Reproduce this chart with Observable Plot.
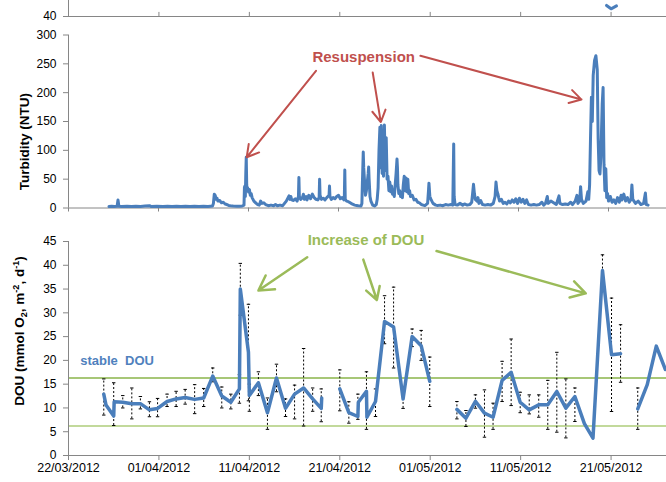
<!DOCTYPE html>
<html><head><meta charset="utf-8">
<script src="https://cdn.jsdelivr.net/npm/d3@7"></script>
<script src="https://cdn.jsdelivr.net/npm/@observablehq/plot@0.6"></script>
<style>
html,body{margin:0;padding:0;background:#fff;overflow:hidden;}
#fig{position:relative;width:666px;height:482px;overflow:hidden;background:#fff;}
#fig svg{position:absolute;left:0;}
</style></head><body><div id="fig"></div>
<script>
// ---------- data (days since 22/03/2012) ----------
const tickDays = [0, 10, 20, 30, 40, 50, 60];
const tickLabels = ["22/03/2012","01/04/2012","11/04/2012","21/04/2012","01/05/2012","11/05/2012","21/05/2012"];
const turbTicks = [0, 50, 100, 150, 200, 250, 300];
const douTicks = [0, 5, 10, 15, 20, 25, 30, 35, 40, 45];

// fragment of the panel above (cropped)
const topDay = [59.5, 60.0, 60.6];
const topVal = [42.3, 41.6, 42.2];

// turbidity (NTU) [day, value]
const turbidity = [[4.5,2.5],[4.8,3],[5.1,2.5],[5.4,3],[5.5,14],[5.6,3],[5.9,2.5],[6.5,3],[7,2.5],[7.5,3],[8,2.8],[8.5,3.5],[9,4],[9.2,2.5],[9.8,3],[10.5,2.6],[11,3.2],[11.5,2.5],[12,3],[12.5,2.8],[13,3.2],[13.5,2.5],[14,3],[14.5,2.6],[15,3],[15.5,2.8],[16,3.5],[16.1,8],[16.2,24],[16.3,22],[16.4,15],[16.5,17],[16.6,12],[16.8,13],[17,9],[17.2,10],[17.4,7],[17.6,6],[17.8,4.5],[18,4],[18.3,3.5],[18.7,3.2],[19,3],[19.3,3.5],[19.5,5],[19.55,36],[19.6,38],[19.65,20],[19.7,60],[19.75,88],[19.8,40],[19.85,30],[19.9,35],[20.0,28],[20.1,32],[20.2,22],[20.3,25],[20.4,18],[20.5,15],[20.6,12],[20.8,9],[21,6],[21.2,5],[21.35,12],[21.5,8],[21.7,9],[21.9,6],[22.2,4],[22.5,5],[22.8,4],[23,6],[23.2,4],[23.5,5],[23.8,4],[24,8],[24.2,12],[24.4,18],[24.5,21],[24.6,15],[24.7,20],[24.8,14],[25.0,13],[25.2,16],[25.4,12],[25.55,20],[25.6,53],[25.65,20],[25.8,15],[26.0,18],[26.1,24],[26.2,15],[26.4,20],[26.5,14],[26.7,22],[26.9,16],[27.1,24],[27.3,18],[27.5,15],[27.7,14],[27.85,18],[27.9,50],[27.95,22],[28.1,15],[28.3,17],[28.5,14],[28.7,18],[28.95,22],[29.0,38],[29.05,20],[29.2,15],[29.4,18],[29.6,16],[29.8,20],[30.0,22],[30.2,16],[30.4,18],[30.6,14],[30.65,20],[30.7,66],[30.75,15],[30.9,12],[31.1,11],[31.3,9],[31.5,7],[31.8,5],[32.0,4.5],[32.2,4],[32.5,3.5],[32.6,8],[32.65,40],[32.75,97],[32.8,70],[32.9,45],[33.0,22],[33.1,30],[33.3,60],[33.35,71],[33.4,50],[33.5,20],[33.6,12],[33.8,5],[34.0,3.5],[34.2,6],[34.3,15],[34.4,35],[34.5,100],[34.6,140],[34.65,70],[34.75,143],[34.85,60],[34.95,129],[35.0,55],[35.1,144],[35.2,65],[35.3,122],[35.4,50],[35.5,55],[35.6,30],[35.7,45],[35.8,28],[35.9,38],[36.0,24],[36.1,28],[36.2,20],[36.4,60],[36.5,85],[36.55,70],[36.6,40],[36.7,25],[36.8,30],[36.9,20],[37.0,25],[37.1,18],[37.2,40],[37.3,55],[37.4,30],[37.5,52],[37.6,28],[37.7,50],[37.8,25],[37.9,30],[38.0,20],[38.2,22],[38.4,14],[38.6,15],[38.8,10],[39.0,9],[39.2,6],[39.4,5],[39.6,4],[39.9,8],[40.0,30],[40.05,43],[40.15,20],[40.3,14],[40.5,8],[40.8,5],[41.0,4.5],[41.3,5],[41.6,4],[41.9,6],[42.2,5],[42.5,6],[42.7,5],[42.75,60],[42.8,111],[42.85,20],[42.95,6],[43.2,5],[43.5,8],[43.8,5],[44.0,7],[44.3,5],[44.6,6],[44.8,10],[44.9,25],[45.0,41],[45.1,25],[45.2,15],[45.4,12],[45.5,18],[45.6,8],[45.8,13],[46.0,6],[46.3,5],[46.6,6],[46.9,5],[47.2,8],[47.4,20],[47.5,45],[47.6,30],[47.7,25],[47.8,18],[47.9,12],[48.1,15],[48.3,8],[48.5,10],[48.7,7],[48.9,12],[49.1,9],[49.3,14],[49.5,10],[49.7,16],[49.9,8],[50.1,17],[50.3,10],[50.5,15],[50.7,8],[50.9,14],[51.1,6],[51.4,5],[51.7,6],[52.0,5],[52.3,6],[52.6,10],[52.8,5],[53.0,8],[53.2,20],[53.3,8],[53.6,12],[53.9,9],[54.2,6],[54.5,21],[54.6,8],[54.9,6],[55.2,7],[55.5,6],[55.8,10],[56.0,6],[56.3,12],[56.5,22],[56.6,8],[56.8,12],[56.9,37],[57.0,15],[57.2,8],[57.5,12],[57.7,28],[57.8,15],[57.9,40],[58.0,120],[58.1,192],[58.2,150],[58.3,230],[58.45,256],[58.6,264],[58.75,240],[58.85,120],[58.95,65],[59.05,59],[59.15,88],[59.3,180],[59.4,209],[59.5,76],[59.6,30],[59.7,68],[59.8,18],[59.9,25],[60.0,12],[60.2,20],[60.4,10],[60.6,14],[60.8,8],[61.0,18],[61.2,10],[61.4,22],[61.5,14],[61.7,24],[61.9,12],[62.1,18],[62.3,10],[62.5,15],[62.6,40],[62.7,15],[63.0,8],[63.3,12],[63.6,6],[63.9,8],[64.1,26],[64.2,6],[64.4,5]];

// DOU (mmol O2 m-2 d-1); null value = gap in line
const douDay = [3.9,4.15,5.0,5.05,6.0,7.0,7.95,8.95,9.85,10.9,11.9,12.9,13.95,14.95,15.95,16.95,17.95,18.9,19.0,19.9,20.0,21.0,22.0,23.0,24.0,25.0,26.0,27.0,27.95,28.0,
  29.0,
  30.0,31.0,32.0,32.05,32.95,33.0,33.95,34.95,35.95,37.0,38.0,39.0,39.95,
  41.5,
  42.95,43.95,45.0,46.0,46.95,47.95,48.95,49.95,50.95,52.0,53.0,54.0,55.0,56.0,57.05,58.0,59.05,60.05,61.05,
  62.0,
  62.95,64.0,65.0,66.0];
const douVal = [12.9,10.6,8.3,11.3,11.2,10.9,10.9,9.6,9.9,11.35,11.9,12.2,11.8,12.1,16.7,12.5,11.2,14.0,35.0,21.7,12.6,15.3,9.0,16.3,9.95,12.9,14.2,11.9,9.9,12.1,
  null,
  14.0,9.0,8.2,11.2,13.5,8.05,11.35,28.2,27.0,11.9,25.0,23.1,15.6,
  null,
  9.7,7.85,11.4,8.9,8.05,15.8,17.5,11.2,9.6,10.65,10.65,13.45,9.95,12.4,6.7,3.65,38.9,21.2,21.4,
  null,
  9.8,14.9,23.0,18.1];
const douLo = [8.5,null,6.3,null,10.0,7.7,9.8,8.15,8.15,10.3,10.3,10.8,8.8,10.3,15.5,10.0,9.8,11.0,29.5,11.5,9.3,12.6,5.5,13.4,8.2,7.7,6.2,9.3,7.1,null,
  null,
  9.4,6.8,7.6,null,5.5,null,8.2,23.5,18.4,9.9,22.9,20.0,10.3,
  null,
  7.7,6.1,9.95,3.85,5.5,11.35,10.5,9.0,8.75,8.05,5.5,4.9,3.7,7.15,null,null,35.0,9.25,15.4,
  null,
  5.5,null,null,null];
const douHi = [16.1,null,15.3,null,12.6,14.2,12.4,11.3,12.0,12.9,13.5,13.9,14.9,14.1,18.4,14.4,12.9,17.0,40.4,31.8,15.0,17.6,12.1,19.2,11.9,14.8,22.5,14.2,14.0,null,
  null,
  18.0,11.3,12.9,null,17.6,null,14.0,33.6,35.4,13.8,26.6,26.3,20.7,
  null,
  11.35,9.46,12.75,13.8,11.0,19.8,24.5,13.3,12.75,12.75,15.8,21.7,16.1,14.2,null,null,42.2,33.1,27.5,
  null,
  14.2,null,null,null];
const stableHigh = 16.3;
const stableLow = 6.2;

// annotations (data coordinates)
const redArrows = [
  {x1: 27.5, y1: 238, x2: 19.8, y2: 88},
  {x1: 33.8, y1: 235, x2: 34.7, y2: 149},
  {x1: 39.1, y1: 264, x2: 57.0, y2: 188}
];
const resuspLabel = {x: 32.8, y: 261, text: "Resuspension"};
const turbTitle = {y: 115, text: "Turbidity (NTU)"};
const greenArrows = [
  {x1: 26.4, y1: 41.7, x2: 21.0, y2: 34.7},
  {x1: 32.6, y1: 41.2, x2: 34.1, y2: 32.7},
  {x1: 40.7, y1: 43.0, x2: 57.2, y2: 34.1}
];
const increaseLabel = {x: 32.9, y: 45.2, text: "Increase of DOU"};
const stableLabel = {x: 1.3, y: 20.0, text: "stable  DOU"};

// ---------- drawing ----------
const axisColor = "#868686";
const blue = "#4a7ebb";
const red = "#c0504d";
const green = "#9bbb59";
const font = "'Liberation Sans', Arial, sans-serif";
const fig = document.getElementById("fig");

function place(svg, top) {
  svg.style.top = top + "px";
  svg.style.background = "transparent";
  svg.style.maxWidth = "none";
  svg.style.overflow = "visible";
  fig.appendChild(svg);
}

// cropped panel above
const topRows = topDay.map((d, i) => ({d, v: topVal[i]}));
const sliver = Plot.plot({
  width: 701, height: 20, marginLeft: 68, marginRight: 0, marginTop: 0, marginBottom: 4,
  style: {fontFamily: font, fontSize: "12px", color: "#000"},
  x: {domain: [0, 70], axis: null},
  y: {domain: [40, 43.33], axis: null},
  marks: [
    Plot.ruleY([40], {stroke: axisColor}),
    Plot.ruleX([0], {stroke: axisColor}),
    Plot.ruleX(tickDays.slice(1), {y1: 40, y2: 40.85, stroke: axisColor}),
    Plot.axisY([40], {tickSize: 5, tickPadding: 7, stroke: axisColor, fill: "#000", label: null}),
    Plot.line(topRows, {x: "d", y: "v", stroke: blue, strokeWidth: 3})
  ]
});
place(sliver, 0);

// turbidity panel
const turbRows = turbidity.map(([d, v]) => ({d, v}));
const turb = Plot.plot({
  width: 698, height: 200, marginLeft: 68, marginRight: 0, marginTop: 14.5, marginBottom: 12.5,
  style: {fontFamily: font, fontSize: "12px", color: "#000"},
  x: {domain: [0, 70], axis: null},
  y: {domain: [0, 300], axis: null},
  marks: [
    Plot.ruleY([0], {stroke: axisColor}),
    Plot.ruleX([0], {stroke: axisColor}),
    Plot.axisX(tickDays, {tickSize: 4, tickFormat: () => "", stroke: axisColor, label: null}),
    Plot.axisY(turbTicks, {tickSize: 5, tickPadding: 7, stroke: axisColor, fill: "#000", label: null}),
    Plot.line(turbRows, {x: "d", y: "v", stroke: blue, strokeWidth: 3}),
    Plot.arrow(redArrows, {x1: "x1", y1: "y1", x2: "x2", y2: "y2", stroke: red, strokeWidth: 2, headLength: 10}),
    Plot.text([resuspLabel], {x: "x", y: "y", text: "text", fill: red, fontWeight: "bold", fontSize: 15}),
    Plot.text([turbTitle], {y: "y", text: "text", frameAnchor: "left", textAnchor: "middle", dx: -44, rotate: -90, fill: "#000", fontWeight: "bold", fontSize: 13.5})
  ]
});
place(turb, 20);

// DOU panel
const douRows = douDay.map((d, i) => ({d, v: douVal[i], lo: douLo[i], hi: douHi[i]}));
const barRows = douRows.filter(r => r.lo != null && r.hi != null);
const capSymbol = {draw(ctx, size) { const w = Math.sqrt(size / Math.PI); ctx.moveTo(-w, 0); ctx.lineTo(w, 0); }};
const dou = Plot.plot({
  width: 701, height: 257, marginLeft: 68, marginRight: 0, marginTop: 16, marginBottom: 27,
  style: {fontFamily: font, fontSize: "12px", color: "#000"},
  x: {domain: [0, 70], axis: null},
  y: {domain: [0, 45], axis: null},
  marks: [
    Plot.ruleY([stableHigh], {stroke: "#8ab54a", strokeWidth: 1.3}),
    Plot.ruleY([stableLow], {stroke: "#c2d99b", strokeWidth: 2.2}),
    Plot.ruleY([0], {stroke: axisColor}),
    Plot.ruleX([0], {stroke: axisColor}),
    Plot.axisX(tickDays, {tickSize: 5, tickPadding: 3, stroke: axisColor, fill: "#000", fontSize: 12.5,
      tickFormat: d => tickLabels[tickDays.indexOf(d)], label: null}),
    Plot.axisY(douTicks, {tickSize: 5, tickPadding: 7, stroke: axisColor, fill: "#000", label: null}),
    Plot.ruleX(barRows, {x: "d", y1: "lo", y2: "hi", stroke: "#000", strokeWidth: 1, strokeDasharray: "2,2"}),
    Plot.dot(barRows, {x: "d", y: "lo", symbol: capSymbol, r: 1.7, stroke: "#000", strokeWidth: 1, fill: "none"}),
    Plot.dot(barRows, {x: "d", y: "hi", symbol: capSymbol, r: 1.7, stroke: "#000", strokeWidth: 1, fill: "none"}),
    Plot.line(douRows, {x: "d", y: "v", stroke: blue, strokeWidth: 3.5}),
    Plot.arrow(greenArrows, {x1: "x1", y1: "y1", x2: "x2", y2: "y2", stroke: green, strokeWidth: 2.5, headLength: 10}),
    Plot.text([increaseLabel], {x: "x", y: "y", text: "text", fill: green, fontWeight: "bold", fontSize: 15}),
    Plot.text([stableLabel], {x: "x", y: "y", text: "text", fill: "#4f81bd", fontWeight: "bold", fontSize: 13, textAnchor: "start"})
  ]
});
place(dou, 225);

// y-axis title with sub/superscripts
const t = d3.select(dou).append("text")
  .attr("transform", "translate(24,106) rotate(-90)")
  .attr("text-anchor", "middle")
  .attr("font-family", font)
  .attr("font-size", 13.5)
  .attr("font-weight", "bold")
  .attr("fill", "#000");
t.append("tspan").text("DOU (mmol O");
t.append("tspan").attr("font-size", 9).attr("dy", 3).text("2");
t.append("tspan").attr("dy", -3).text(", m");
t.append("tspan").attr("font-size", 9).attr("dy", -5).text("-2");
t.append("tspan").attr("dy", 5).text(", d");
t.append("tspan").attr("font-size", 9).attr("dy", -5).text("-1");
t.append("tspan").attr("dy", 5).text(")");
</script></body></html>
